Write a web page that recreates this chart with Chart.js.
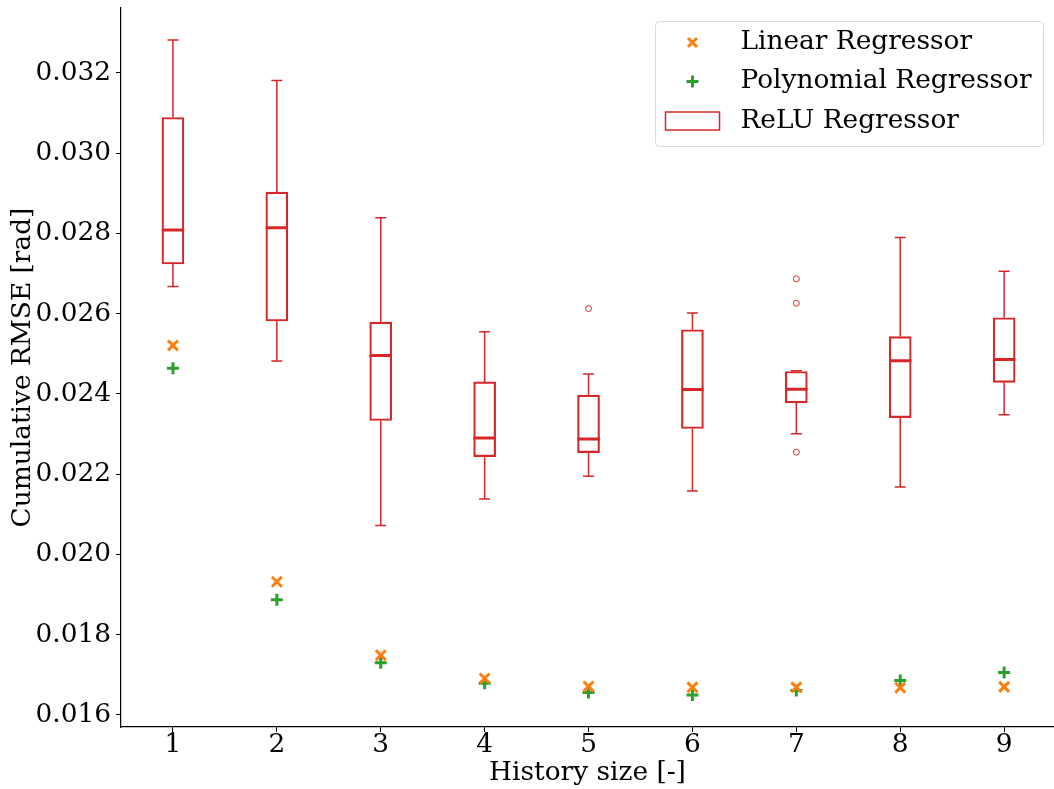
<!DOCTYPE html>
<html>
<head>
<meta charset="utf-8">
<script src="https://cdn.jsdelivr.net/npm/chart.js@4.4.1/dist/chart.umd.min.js"></script>
<style>
  html, body { margin: 0; padding: 0; background: #fff; }
  #wrap { width: 1054px; height: 789px; }
</style>
</head>
<body>
<div id="wrap"><canvas id="rmseChart" width="1054" height="789"></canvas></div>
<script>
// history sizes (x categories)
var historySizes = [1, 2, 3, 4, 5, 6, 7, 8, 9];

// ReLU regressor box stats
var reluLow    = [0.02668, 0.02482, 0.02072, 0.02138, 0.02195, 0.02158, 0.02301, 0.02168, 0.02348];
var reluQ1     = [0.02724, 0.02582, 0.02334, 0.02244, 0.02254, 0.02314, 0.02378, 0.02341, 0.02429];
var reluMedian = [0.02809, 0.02814, 0.02496, 0.02290, 0.02288, 0.02411, 0.02412, 0.02483, 0.02486];
var reluQ3     = [0.03089, 0.02903, 0.02579, 0.02430, 0.02397, 0.02560, 0.02456, 0.02543, 0.02590];
var reluHigh   = [0.03282, 0.03181, 0.02839, 0.02555, 0.02450, 0.02602, 0.02458, 0.02790, 0.02706];
// outliers as [history size, value]
var reluOutliers = [[5, 0.02613], [7, 0.02687], [7, 0.02626], [7, 0.02255]];

var linearRmse = [0.02521, 0.01932, 0.01749, 0.01691, 0.01671, 0.01669, 0.01669, 0.01668, 0.01670];
var polyRmse   = [0.02464, 0.01887, 0.01730, 0.01679, 0.01656, 0.01650, 0.01661, 0.01686, 0.01706];

var yTicks = [0.016, 0.018, 0.020, 0.022, 0.024, 0.026, 0.028, 0.030, 0.032];

var RED = '#d62728', ORANGE = '#ff7f0e', GREEN = '#2ca02c';
var FONT = '"DejaVu Serif", serif';
var FS = 26.4;

// helper: build broken line segments from pairs of points
function segments(pairs) {
    var out = [];
    pairs.forEach(function (p) {
        out.push(p[0], p[1], { x: p[0].x, y: null });
    });
    return out;
}

var whiskers = segments(historySizes.map(function (x, i) {
    return [{ x: x, y: reluQ1[i] }, { x: x, y: reluLow[i] }];
}).concat(historySizes.map(function (x, i) {
    return [{ x: x, y: reluQ3[i] }, { x: x, y: reluHigh[i] }];
})));

var caps = segments(historySizes.map(function (x, i) {
    return [{ x: x - 0.053, y: reluLow[i] }, { x: x + 0.053, y: reluLow[i] }];
}).concat(historySizes.map(function (x, i) {
    return [{ x: x - 0.053, y: reluHigh[i] }, { x: x + 0.053, y: reluHigh[i] }];
})));

var medians = segments(historySizes.map(function (x, i) {
    return [{ x: x - 0.108, y: reluMedian[i] }, { x: x + 0.108, y: reluMedian[i] }];
}));

// legend drawn by hand, matplotlib style
var legendPlugin = {
    id: 'mplLegend',
    afterDraw: function (chart) {
        var ctx = chart.ctx;
        var right = chart.chartArea.right - 10.5;
        var left = right - 388, top = 21.5, h = 125;
        ctx.save();
        ctx.beginPath();
        ctx.roundRect(left, top, right - left, h, 4);
        ctx.fillStyle = 'rgba(255,255,255,0.8)';
        ctx.fill();
        ctx.strokeStyle = '#d9d9d9';
        ctx.lineWidth = 1;
        ctx.stroke();

        var mx = left + 37, tx = left + 85;
        var rows = [top + 21, top + 60, top + 99.5];
        ctx.lineWidth = 3;
        // x marker
        ctx.strokeStyle = ORANGE;
        ctx.beginPath();
        ctx.moveTo(mx - 4.5, rows[0] - 4.5); ctx.lineTo(mx + 4.5, rows[0] + 4.5);
        ctx.moveTo(mx + 4.5, rows[0] - 4.5); ctx.lineTo(mx - 4.5, rows[0] + 4.5);
        ctx.stroke();
        // + marker
        ctx.strokeStyle = GREEN;
        ctx.beginPath();
        ctx.moveTo(mx - 6, rows[1]); ctx.lineTo(mx + 6, rows[1]);
        ctx.moveTo(mx, rows[1] - 6); ctx.lineTo(mx, rows[1] + 6);
        ctx.stroke();
        // box patch
        ctx.strokeStyle = RED;
        ctx.lineWidth = 1.5;
        ctx.strokeRect(left + 10, rows[2] - 9, 54, 18);

        ctx.fillStyle = '#000';
        ctx.font = FS + 'px ' + FONT;
        ctx.textBaseline = 'middle';
        ctx.fillText('Linear Regressor', tx, rows[0]);
        ctx.fillText('Polynomial Regressor', tx, rows[1]);
        ctx.fillText('ReLU Regressor', tx, rows[2]);
        ctx.restore();
    }
};

var ctx = document.getElementById('rmseChart').getContext('2d');
var rmseChart = new Chart(ctx, {
    type: 'bar',
    data: {
        datasets: [
            {
                type: 'line', label: 'whiskers', data: whiskers,
                borderColor: RED, borderWidth: 1.5, pointRadius: 0, spanGaps: false, fill: false
            },
            {
                type: 'line', label: 'caps', data: caps,
                borderColor: RED, borderWidth: 1.5, pointRadius: 0, spanGaps: false, fill: false
            },
            {
                type: 'bar', label: 'ReLU Regressor',
                data: historySizes.map(function (x, i) { return { x: x, y: [reluQ1[i], reluQ3[i]] }; }),
                backgroundColor: 'rgba(255,255,255,0)', borderColor: RED, borderWidth: 1.5,
                borderSkipped: false, barThickness: 22, grouped: false
            },
            {
                type: 'line', label: 'medians', data: medians,
                borderColor: RED, borderWidth: 3, pointRadius: 0, spanGaps: false, fill: false
            },
            {
                type: 'scatter', label: 'outliers',
                data: reluOutliers.map(function (o) { return { x: o[0], y: o[1] }; }),
                pointStyle: 'circle', pointRadius: 3, borderColor: RED, borderWidth: 1,
                backgroundColor: 'rgba(255,255,255,0)'
            },
            {
                type: 'scatter', label: 'Linear Regressor',
                data: historySizes.map(function (x, i) { return { x: x, y: linearRmse[i] }; }),
                pointStyle: 'crossRot', pointRadius: 7, borderWidth: 3, borderColor: ORANGE
            },
            {
                type: 'scatter', label: 'Polynomial Regressor',
                data: historySizes.map(function (x, i) { return { x: x, y: polyRmse[i] }; }),
                pointStyle: 'cross', pointRadius: 6, borderWidth: 3, borderColor: GREEN
            }
        ]
    },
    options: {
        responsive: false,
        animation: false,
        layout: { autoPadding: false, padding: { top: 8, right: 0, left: 0, bottom: 0 } },
        plugins: { legend: { display: false }, tooltip: { enabled: false } },
        scales: {
            x: {
                type: 'linear', min: 0.5, max: 9.48, offset: false,
                afterBuildTicks: function (s) { s.ticks = historySizes.map(function (v) { return { value: v }; }); },
                afterFit: function (s) { s.height = 62; s.paddingLeft = 0; s.paddingRight = 0; },
                grid: { offset: false, drawOnChartArea: false, drawTicks: true, tickLength: 5, color: '#000', tickWidth: 1 },
                border: { display: true, color: '#000', width: 1.2 },
                ticks: { color: '#000', font: { family: FONT, size: FS }, padding: -3, maxRotation: 0 },
                title: { display: true, text: 'History size [-]', color: '#000',
                         font: { family: FONT, size: FS }, padding: { top: 0, bottom: 0 } }
            },
            y: {
                type: 'linear', min: 0.0157, max: 0.03362,
                afterBuildTicks: function (s) { s.ticks = yTicks.map(function (v) { return { value: v }; }); },
                afterFit: function (s) { s.width = 121; s.paddingTop = 0; s.paddingBottom = 0; },
                grid: { drawOnChartArea: false, drawTicks: true, tickLength: 5, color: '#000', tickWidth: 1 },
                border: { display: true, color: '#000', width: 1.2 },
                ticks: { color: '#000', font: { family: FONT, size: FS }, padding: 5,
                         callback: function (v) { return v.toFixed(3); } },
                title: { display: true, text: 'Cumulative RMSE [rad]', color: '#000',
                         font: { family: FONT, size: FS }, padding: { top: 7, bottom: 4 } }
            }
        }
    },
    plugins: [legendPlugin]
});
</script>
</body>
</html>
